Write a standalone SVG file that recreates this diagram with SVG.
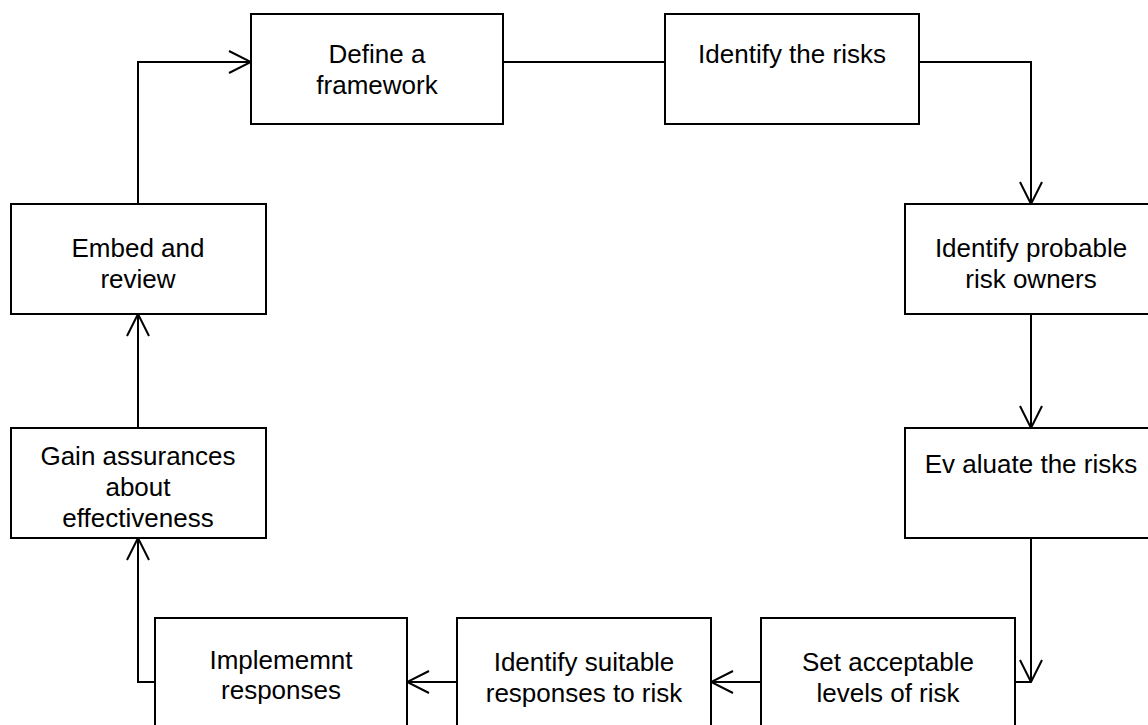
<svg xmlns="http://www.w3.org/2000/svg" width="1148" height="725" viewBox="0 0 1148 725">
<style>
.box{fill:#fff;stroke:#000;stroke-width:2}
.t{font-family:"Liberation Sans",Arial,sans-serif;font-size:26px;fill:#000;text-anchor:middle}
.c{fill:none;stroke:#000;stroke-width:2}
</style>
<defs>
<marker id="a" viewBox="-23 -12 24 24" refX="0" refY="0" markerWidth="24" markerHeight="24" markerUnits="userSpaceOnUse" orient="auto">
<path d="M-22,-11 L0,0 L-22,11" fill="none" stroke="#000" stroke-width="2"/>
</marker>
</defs>
<rect width="1148" height="725" fill="#fff"/>
<g id="connectors">
<path class="c" d="M138,204 L138,62 L251,62" marker-end="url(#a)"/>
<path class="c" d="M503,62 L665,62"/>
<path class="c" d="M919,62 L1031,62 L1031,204" marker-end="url(#a)"/>
<path class="c" d="M1031,314 L1031,428" marker-end="url(#a)"/>
<path class="c" d="M1031,538 L1031,682" marker-end="url(#a)"/>
<path class="c" d="M1031,682 L1015,682"/>
<path class="c" d="M761,682 L711,682" marker-end="url(#a)"/>
<path class="c" d="M457,682 L407,682" marker-end="url(#a)"/>
<path class="c" d="M155,682 L138,682 L138,538" marker-end="url(#a)"/>
<path class="c" d="M138,428 L138,314" marker-end="url(#a)"/>
</g>
<g id="define">
<rect class="box" x="251" y="14" width="252" height="110"/>
<text class="t" x="377" y="63">Define a</text>
<text class="t" x="377" y="94">framework</text>
</g>
<g id="identify-risks">
<rect class="box" x="665" y="14" width="254" height="110"/>
<text class="t" x="792" y="63">Identify the risks</text>
</g>
<g id="identify-owners">
<rect class="box" x="905" y="204" width="252" height="110"/>
<text class="t" x="1031" y="257">Identify probable</text>
<text class="t" x="1031" y="288">risk owners</text>
</g>
<g id="evaluate">
<rect class="box" x="905" y="428" width="252" height="110"/>
<text class="t" x="1031" y="473">Ev aluate the risks</text>
</g>
<g id="set-levels">
<rect class="box" x="761" y="618" width="254" height="128"/>
<text class="t" x="888" y="671">Set acceptable</text>
<text class="t" x="888" y="702">levels of risk</text>
</g>
<g id="identify-responses">
<rect class="box" x="457" y="618" width="254" height="128"/>
<text class="t" x="584" y="671">Identify suitable</text>
<text class="t" x="584" y="702">responses to risk</text>
</g>
<g id="implement">
<rect class="box" x="155" y="618" width="252" height="128"/>
<text class="t" x="281" y="669">Implememnt</text>
<text class="t" x="281" y="699">responses</text>
</g>
<g id="gain">
<rect class="box" x="11" y="428" width="255" height="110"/>
<text class="t" x="138" y="465">Gain assurances</text>
<text class="t" x="138" y="496">about</text>
<text class="t" x="138" y="527">effectiveness</text>
</g>
<g id="embed">
<rect class="box" x="11" y="204" width="255" height="110"/>
<text class="t" x="138" y="257">Embed and</text>
<text class="t" x="138" y="288">review</text>
</g>
</svg>
